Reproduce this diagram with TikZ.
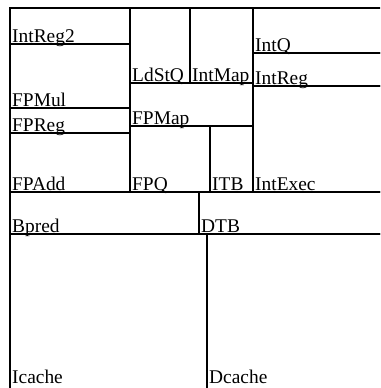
\documentclass[tikz,border=0pt]{standalone}
\usepackage{fontspec}
\setmainfont{Liberation Serif}
\newcommand\floorblk[5]{%
  \draw[blk] (#1,#2) rectangle (#3,#4);
  \node[lbl] (#5) at (#1+2,#4-1.5) {#5};}
\newcommand\floorblkat[6]{%
  \draw[blk] (#1,#2) rectangle (#3,#4);
  \node[lbl] (#5) at (#1+2,#6) {#5};}
\begin{document}
\begin{tikzpicture}[x=1pt,y=-1pt,
  blk/.style={draw=black,line width=1.1pt},
  lbl/.style={anchor=base west,inner sep=0pt,font=\fontsize{19.4}{19.4}\selectfont}]
\useasboundingbox (0,0) rectangle (380,388);
\clip (0,0) rectangle (380,388);
\floorblk{10}{8}{130}{44}{IntReg2}
\floorblk{10}{44}{130}{108}{FPMul}
\floorblk{10}{108}{130}{133}{FPReg}
\floorblk{10}{133}{130}{192}{FPAdd}
\floorblk{130}{8}{190}{83}{LdStQ}
\floorblk{190}{8}{253}{83}{IntMap}
\floorblk{130}{83}{253}{126}{FPMap}
\floorblk{130}{126}{210}{192}{FPQ}
\floorblk{210}{126}{253}{192}{ITB}
\floorblk{253}{8}{385}{53}{IntQ}
\floorblk{253}{53}{385}{86}{IntReg}
\floorblk{253}{86}{385}{192}{IntExec}
\floorblk{10}{192}{199}{234}{Bpred}
\floorblk{199}{192}{385}{234}{DTB}
\floorblkat{10}{234}{207}{393}{Icache}{383.5}
\floorblkat{207}{234}{385}{393}{Dcache}{383.5}
\end{tikzpicture}
\end{document}
